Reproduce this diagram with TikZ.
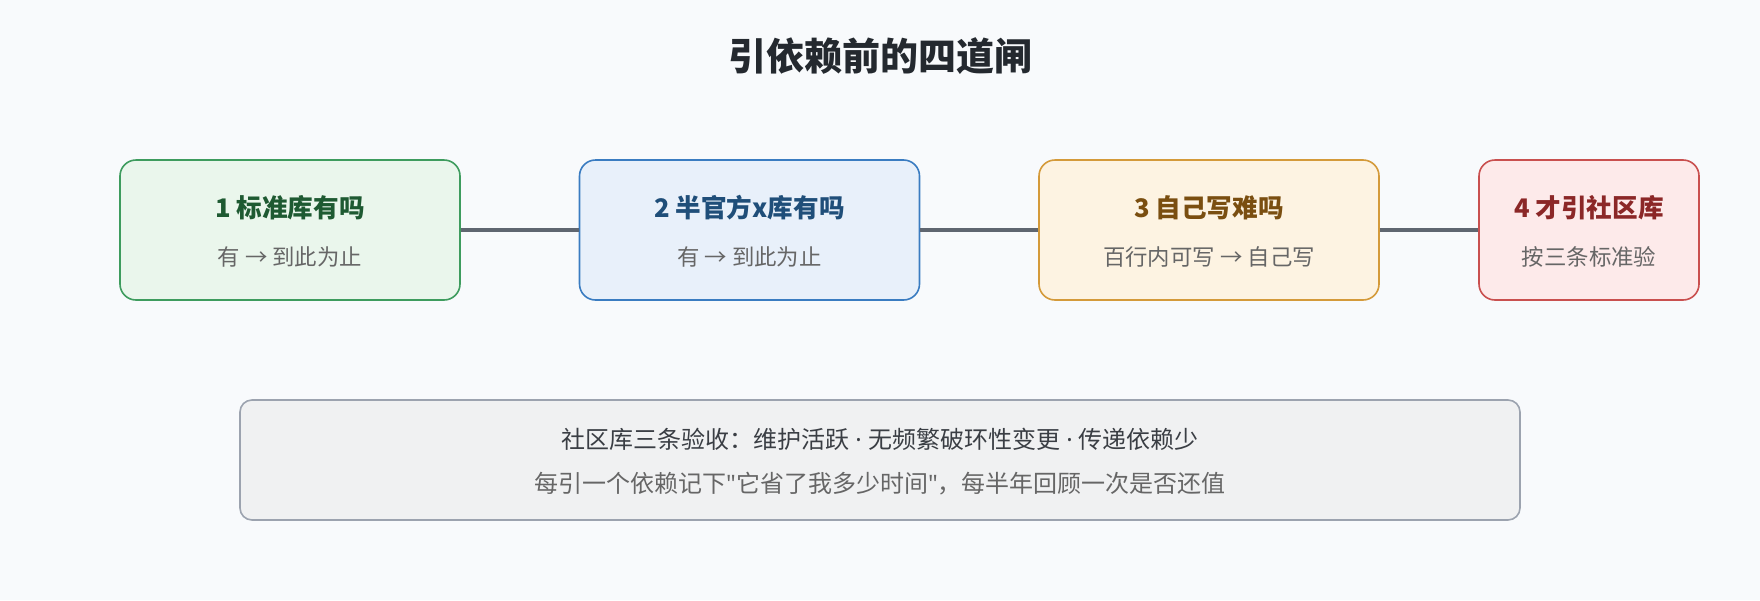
\documentclass[tikz,border=0pt]{standalone}
\usepackage{fontspec}
\setmainfont{Noto Sans CJK SC}
\newfontfamily\latinfont{Noto Sans}
\usepackage{tikz}
\usetikzlibrary{positioning}

\definecolor{pagebg}{HTML}{F8FAFC}
\definecolor{inkdark}{HTML}{24292F}
\definecolor{inksub}{HTML}{666666}
\definecolor{linkgray}{HTML}{5F6670}
\definecolor{stdfill}{HTML}{EAF6EC}
\definecolor{stdline}{HTML}{3E9C5E}
\definecolor{stdtext}{HTML}{1E5A32}
\definecolor{semifill}{HTML}{E8F0FA}
\definecolor{semiline}{HTML}{3A7CC1}
\definecolor{semitext}{HTML}{1F4E79}
\definecolor{selffill}{HTML}{FDF3E2}
\definecolor{selfline}{HTML}{D49A3A}
\definecolor{selftext}{HTML}{7A4E10}
\definecolor{commfill}{HTML}{FDEAEA}
\definecolor{commline}{HTML}{C9504F}
\definecolor{commtext}{HTML}{8B2727}
\definecolor{notefill}{HTML}{F0F1F2}
\definecolor{noteline}{HTML}{9CA3AF}

\newcommand{\middot}{{\latinfont\ ·\ }}
\newcommand{\straightq}{{\latinfont\symbol{34}}}

\begin{document}
\begin{tikzpicture}[x=1pt, y=-1pt,
    gate/.style={draw, line width=1.6pt, rounded corners=16pt,
                 minimum height=140pt, inner sep=0pt},
    gatetitle/.style={font=\fontsize{25.6pt}{30pt}\selectfont\bfseries, inner sep=0pt},
    gatesub/.style={font=\fontsize{22.4pt}{26pt}\selectfont, text=inksub, inner sep=0pt},
    notetext/.style={font=\fontsize{24pt}{28pt}\selectfont, inner sep=0pt},
    link/.style={linkgray, line width=4pt}]
    % Page
    \fill[pagebg] (0,0) rectangle (1760,600);
    \useasboundingbox (0,0) rectangle (1760,600);
    \node[font=\fontsize{38pt}{44pt}\selectfont\bfseries, text=inkdark, inner sep=0pt]
        (title) at (880,56) {引依赖前的四道闸};

    % The four gates
    \node[gate, fill=stdfill, draw=stdline, minimum width=340pt] (g1) at (290,230) {};
    \node[gatetitle, text=stdtext] (g1t) at ([yshift=22pt]g1.center) {1 标准库有吗};
    \node[gatesub] (g1s) at ([yshift=-27pt]g1.center) {有 → 到此为止};

    \node[gate, fill=semifill, draw=semiline, minimum width=340pt] (g2) at (749.5,230) {};
    \node[gatetitle, text=semitext] (g2t) at ([yshift=22pt]g2.center) {2 半官方x库有吗};
    \node[gatesub] (g2s) at ([yshift=-27pt]g2.center) {有 → 到此为止};

    \node[gate, fill=selffill, draw=selfline, minimum width=340pt] (g3) at (1209,230) {};
    \node[gatetitle, text=selftext] (g3t) at ([yshift=22pt]g3.center) {3 自己写难吗};
    \node[gatesub] (g3s) at ([yshift=-27pt]g3.center) {百行内可写 → 自己写};

    \node[gate, fill=commfill, draw=commline, minimum width=220pt] (g4) at (1589,230) {};
    \node[gatetitle, text=commtext] (g4t) at ([yshift=22pt]g4.center) {4 才引社区库};
    \node[gatesub] (g4s) at ([yshift=-27pt]g4.center) {按三条标准验};

    % Links between gates
    \draw[link] (g1) -- (g2);
    \draw[link] (g2) -- (g3);
    \draw[link] (g3) -- (g4);

    % Acceptance note
    \node[draw=noteline, fill=notefill, line width=1.6pt, rounded corners=12pt,
          minimum width=1280pt, minimum height=120pt, inner sep=0pt] (note) at (880,460) {};
    \node[notetext, text=inkdark!90] (note1) at (880,439)
        {社区库三条验收：维护活跃\middot 无频繁破环性变更\middot 传递依赖少};
    \node[notetext, text=inksub] (note2) at (880,484)
        {每引一个依赖记下\straightq 它省了我多少时间\straightq ，每半年回顾一次是否还值};
\end{tikzpicture}
\end{document}
